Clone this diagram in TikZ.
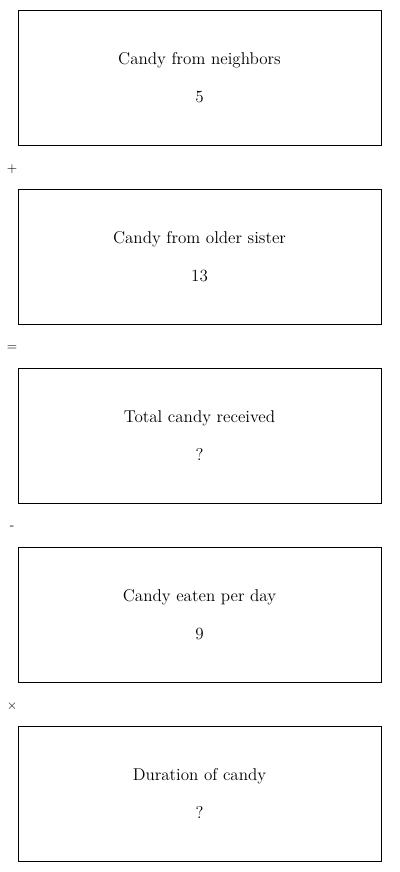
\documentclass[tikz,border=0pt]{standalone}
\usepackage{tikz}
\usetikzlibrary{positioning}
\tikzset{
  qtybox/.style={draw, line width=0.75pt, minimum width=272.25pt, minimum height=101.25pt,
                 align=center, font=\fontsize{12.8}{14}\selectfont, inner sep=0pt},
  opsign/.style={font=\sffamily\normalsize, inner sep=0pt}
}

\begin{document}
\begin{tikzpicture}[x=0.75pt, y=-0.75pt]
    \useasboundingbox (0,0) rectangle (400,872);
    \foreach \i/\lbl/\val in {0/Candy from neighbors/5, 1/Candy from older sister/13,
                              2/Total candy received/?, 3/Candy eaten per day/9,
                              4/Duration of candy/?}{
      \node[qtybox] (box\i) at (199.5, {77.5+179*\i}) {\lbl\\[15pt]\val};
    }
    \foreach \i/\op in {0/+, 1/=, 2/-, 3/$\times$}{
      \node[opsign] (op\i) at (12, {169.5+179*\i}) {\op};
    }
  \end{tikzpicture}
\end{document}
